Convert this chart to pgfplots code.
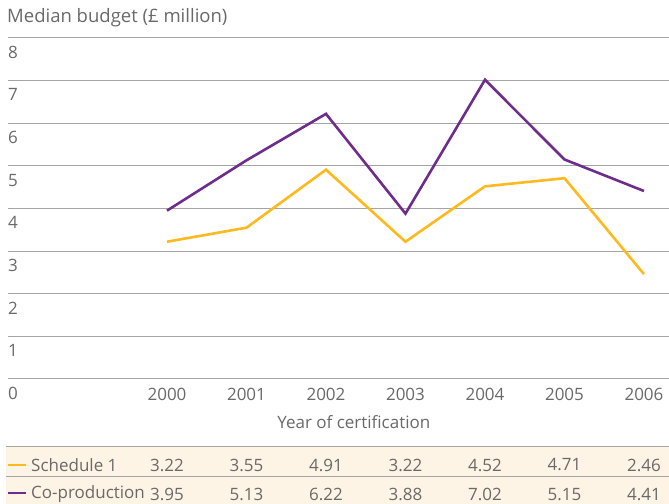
\documentclass[border=0pt]{standalone}
\usepackage{pgfplots}
\usepackage{pgfplotstable}
\pgfplotsset{compat=1.18}
\usepackage{fontspec}
\setmainfont{Open Sans}
\definecolor{txt}{RGB}{105,105,105}
\definecolor{gridc}{RGB}{165,165,165}
\definecolor{cream}{RGB}{254,244,229}
\definecolor{yel}{RGB}{253,185,30}
\definecolor{pur}{RGB}{110,45,140}
\newcommand{\fs}{\fontsize{17bp}{20bp}\selectfont}
\pgfplotstableread{
x s c
0 3.22 3.95
1 3.55 5.13
2 4.91 6.22
3 3.22 3.88
4 4.52 7.02
5 4.71 5.15
6 2.46 4.41
}\data
\begin{document}
\begin{tikzpicture}[x=1bp,y=1bp]
\useasboundingbox (0,0) rectangle (669,504);
% table background
\fill[cream] (6,0) rectangle (669,57);
\draw[gridc, line width=1bp] (6,57) -- (669,57);
\draw[gridc, line width=1bp] (6,27) -- (669,27);
\draw[yel, line width=2.2bp] (8,39) -- (26,39);
\draw[pur, line width=2.2bp] (8,11) -- (26,11);
\node[anchor=west, text=txt, font=\fs, inner sep=0] at (31,39) {Schedule 1};
\node[anchor=west, text=txt, font=\fs, inner sep=0] at (31,10) {Co-production};
\node[anchor=west, text=txt, font=\fontsize{18.5bp}{20bp}\selectfont, inner sep=0] at (7,486) {Median budget (£ million)};
\begin{axis}[
  at={(8bp,125bp)}, anchor=south west,
  scale only axis, width=661bp, height=341bp,
  xmin=-2, xmax=6.315, ymin=0, ymax=8,
  clip=false,
  axis line style={draw=none},
  major tick length=0,
  ymajorgrids, grid style={gridc, line width=1bp},
  ytick={0,...,8},
  xtick={0,...,6},
  xticklabels={2000,2001,2002,2003,2004,2005,2006},
  /pgf/number format/assume math mode=true,
  tick label style={text=txt, font=\fs, inner sep=0},
  yticklabel style={anchor=north west, xshift=0bp, yshift=-8bp},
  xticklabel style={anchor=north, yshift=-9bp},
  xlabel={Year of certification},
  xlabel style={text=txt, font=\fs, inner sep=0, anchor=center, at={(axis cs:2.35,-1.0)}},
]
\addplot[yel, line width=2.6bp] table[x=x, y=s] {\data};
\addplot[pur, line width=2.6bp] table[x=x, y=c] {\data};
\addplot[draw=none, mark=none, nodes near coords, point meta=explicit symbolic,
  every node near coord/.append style={anchor=center, text=txt, font=\fs, inner sep=0}]
  table[x=x, y expr=-2.018, meta=s] {\data};
\addplot[draw=none, mark=none, nodes near coords, point meta=explicit symbolic,
  every node near coord/.append style={anchor=center, text=txt, font=\fs, inner sep=0}]
  table[x=x, y expr=-2.70, meta=c] {\data};
\end{axis}
\end{tikzpicture}
\end{document}
